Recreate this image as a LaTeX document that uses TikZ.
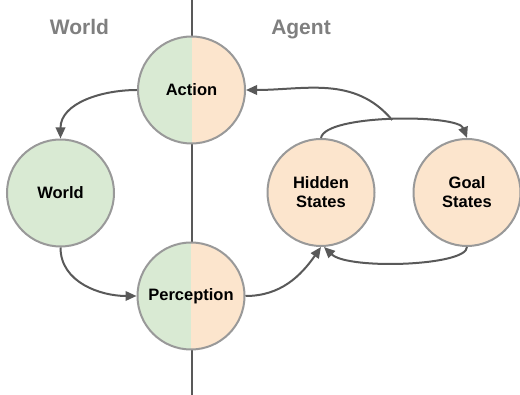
\documentclass[tikz,border=0pt]{standalone}
\usepackage{fontspec}
\setmainfont{Liberation Sans}
\usetikzlibrary{arrows.meta}
\definecolor{wgreen}{HTML}{D9EAD3}
\definecolor{aorange}{HTML}{FCE5CD}
\definecolor{bordergray}{HTML}{999999}
\definecolor{arrgray}{HTML}{595959}
\definecolor{titlegray}{HTML}{7F7F7F}
\tikzset{
  circ/.style={circle, draw=bordergray, line width=2pt, minimum size=107pt, inner sep=0pt,
    font=\fontsize{16.5}{20}\selectfont\bfseries, align=center},
  worldc/.style={circ, fill=wgreen},
  agentc/.style={circ, fill=aorange},
  splitc/.style={circ, path picture={
     \fill[wgreen] (path picture bounding box.south west) rectangle (path picture bounding box.north);
     \fill[aorange] (path picture bounding box.south) rectangle (path picture bounding box.north east);}},
  arr/.style={draw=arrgray, line width=2pt, -{Triangle[length=11pt,width=9.5pt]}},
  title/.style={text=titlegray, font=\fontsize{21}{24}\selectfont\bfseries, anchor=base, inner sep=0pt},
  divider/.style={draw=arrgray, line width=1.6pt}
}
\begin{document}
\begin{tikzpicture}[x=1pt,y=-1pt]
\useasboundingbox (0,0) rectangle (520,395);
\coordinate (top) at (192,0);
\coordinate (bot) at (192,395);
\draw[divider] (top) -- (bot);
\node[title] (twl) at (79.5,35) {World};
\node[title] (tag) at (301,35) {Agent};
\node[splitc] (act) at (191.5,90) {Action};
\node[worldc] (wld) at (60.5,193) {World};
\node[splitc] (per) at (191,296) {Perception};
\node[agentc] (hid) at (321,192.5) {Hidden\\[-1pt]States};
\node[agentc] (gol) at (467,192.5) {Goal\\[-1pt]States};
\draw[arr] (act.west) to[out=180,in=90] (wld.north);
\draw[arr] (wld.south) to[out=-90,in=180] (per.west);
\draw[arr] (per.east) to[out=0,in=-125] (hid.south);
\draw[arr] (gol.south) .. controls (467,266) and (348,270) .. ([xshift=3pt]hid.south);
\draw[arr] (hid.north) .. controls (325,114) and (458,114) .. (gol.north) coordinate[pos=0.5] (mid);
\draw[arr] (mid) to[out=130,in=0] (act.east);
\end{tikzpicture}
\end{document}
